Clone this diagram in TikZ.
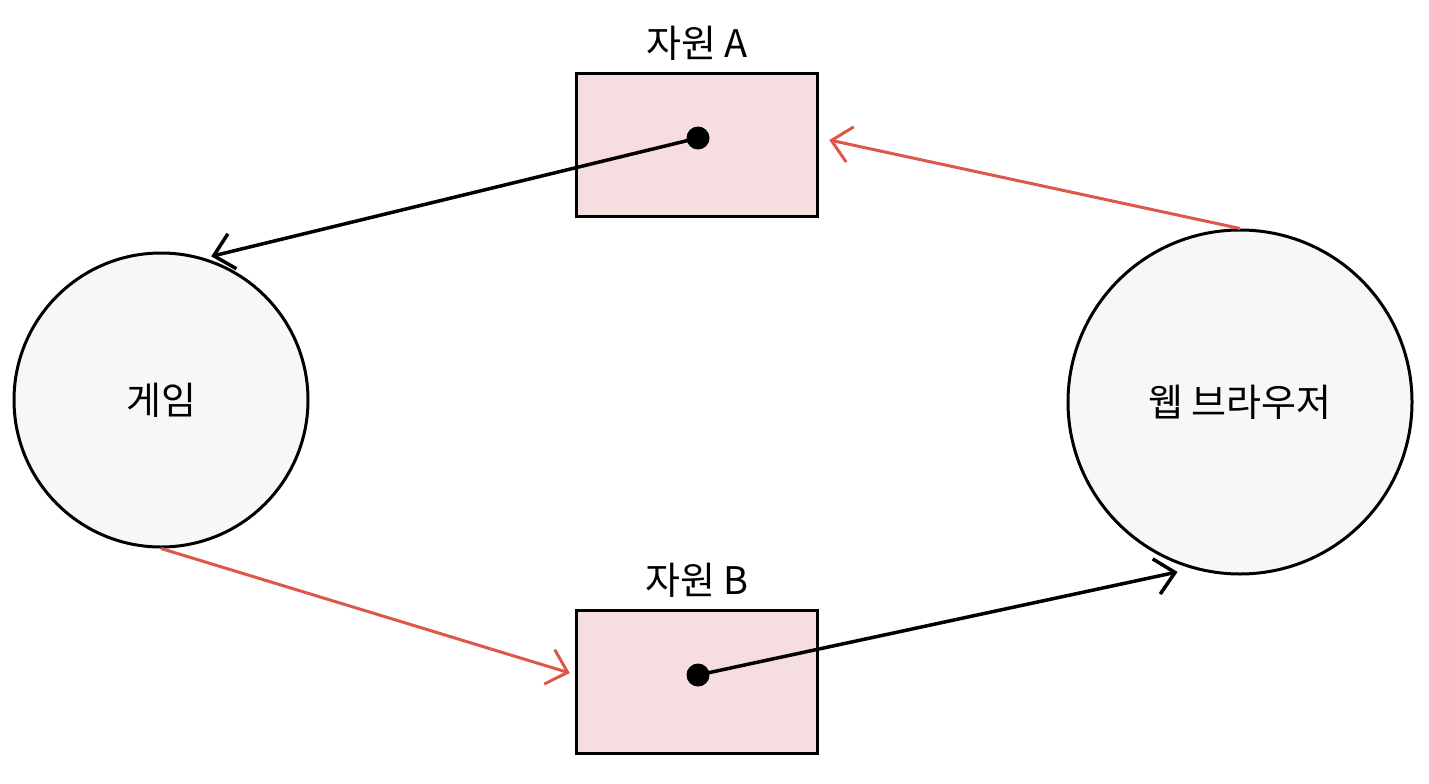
\documentclass[tikz,border=0pt]{standalone}
\usepackage{fontspec}
\setmainfont{Noto Sans CJK KR}
\usetikzlibrary{positioning, arrows.meta}
\definecolor{resfill}{RGB}{246, 222, 224}
\definecolor{procfill}{RGB}{247, 247, 247}
\definecolor{reqred}{RGB}{222, 88, 74}

\begin{document}
\begin{tikzpicture}[x=1pt, y=-1pt, font=\fontsize{38}{44}\selectfont,
    proc/.style={circle, draw, fill=procfill, line width=3pt, inner sep=0pt},
    res/.style={rectangle, draw, fill=resfill, line width=3.5pt,
                minimum width=241pt, minimum height=143pt},
    dot/.style={circle, fill=black, inner sep=0pt, minimum size=23pt},
    hold/.style={-{Straight Barb[length=19pt, width=36pt]}, line width=3.5pt},
    want/.style={-{Straight Barb[length=19pt, width=36pt]}, line width=3pt, reqred}]
  \useasboundingbox[fill=white] (0,0) rectangle (1429,784);

  \node[proc, minimum size=294pt] (game) at (161,400) {게임};
  \node[proc, minimum size=344pt] (browser) at (1240,402) {웹 브라우저};

  \node[res] (resA) at (697,145) {};
  \node[res] (resB) at (697,682) {};
  \node[above=8pt of resA] (labA) {자원 A};
  \node[above=8pt of resB] (labB) {자원 B};

  \node[dot] (dotA) at (698,138) {};
  \node[dot] (dotB) at (698,675) {};

  \draw[hold, shorten >=7pt] (dotA.center) -- (game.73);
  \draw[want] (browser.90) -- ([xshift=10pt, yshift=5pt]resA.east);
  \draw[want] (game.270) -- ([xshift=-5pt, yshift=9pt]resB.west);
  \draw[hold, shorten >=15pt] (dotB.center) -- (browser.254);
\end{tikzpicture}
\end{document}
